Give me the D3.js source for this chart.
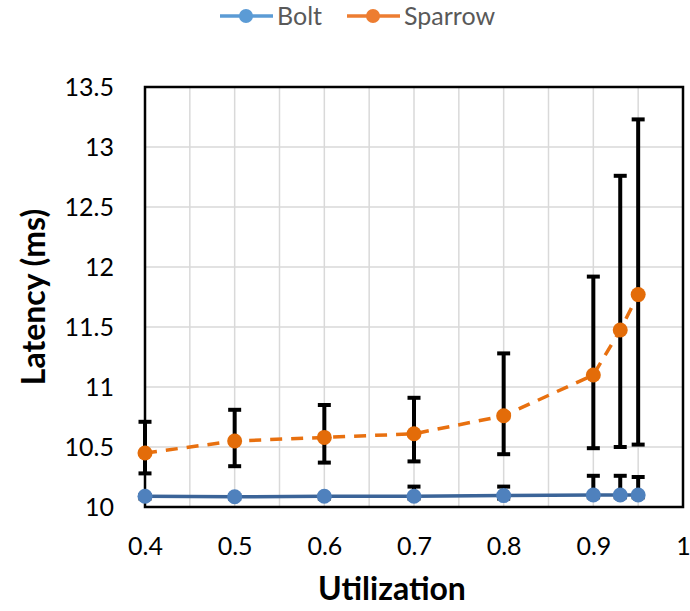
<!DOCTYPE html>
<html>
<head>
<meta charset="utf-8">
<script src="https://cdn.jsdelivr.net/npm/d3@7"></script>
<style>
  body { margin: 0; background: #fff; }
  text { font-family: Lato, "Open Sans", sans-serif; }
</style>
</head>
<body>
<div id="chart"></div>
<script>
var utilization = [0.4, 0.5, 0.6, 0.7, 0.8, 0.9, 0.93, 0.95];
var boltLatency = [10.09, 10.085, 10.09, 10.09, 10.095, 10.1, 10.1, 10.1];
var boltHigh = [10.1, 10.1, 10.1, 10.17, 10.17, 10.26, 10.26, 10.25];
var boltLow = [10.07, 10.07, 10.07, 10.07, 10.07, 10.08, 10.08, 10.08];
var sparrowLatency = [10.45, 10.55, 10.58, 10.61, 10.76, 11.1, 11.475, 11.77];
var sparrowHigh = [10.71, 10.81, 10.85, 10.91, 11.28, 11.92, 12.76, 13.23];
var sparrowLow = [10.28, 10.34, 10.37, 10.38, 10.44, 10.49, 10.5, 10.52];
var xTicks = [0.4, 0.5, 0.6, 0.7, 0.8, 0.9, 1];
var yTicks = [10, 10.5, 11, 11.5, 12, 12.5, 13, 13.5];

var width = 690, height = 611;
var margin = { top: 87, right: 7, bottom: 104, left: 145 };

var svg = d3.select('#chart').append('svg')
    .attr('width', width)
    .attr('height', height);

var x = d3.scaleLinear().domain([0.4, 1]).range([margin.left, width - margin.right]);
var y = d3.scaleLinear().domain([10, 13.5]).range([height - margin.bottom, margin.top]);

// grid
var grid = svg.append('g');
grid.selectAll('line.h').data(yTicks).enter().append('line')
    .attr('x1', x(0.4)).attr('x2', x(1))
    .attr('y1', function (d) { return y(d); }).attr('y2', function (d) { return y(d); })
    .attr('stroke', '#d9d9d9').attr('stroke-width', 1.5);
grid.selectAll('line.v').data(d3.range(0.45, 1, 0.05)).enter().append('line')
    .attr('y1', y(10)).attr('y2', y(13.5))
    .attr('x1', function (d) { return x(d); }).attr('x2', function (d) { return x(d); })
    .attr('stroke', '#d9d9d9').attr('stroke-width', 1.5);

// axes labels
var xAxis = d3.axisBottom(x).tickValues(xTicks).tickSize(0).tickPadding(30)
    .tickFormat(function (d) { return d === 1 ? '1' : d3.format('.1f')(d); });
var gx = svg.append('g').attr('transform', 'translate(0,' + y(10) + ')').call(xAxis);
gx.select('.domain').remove();
gx.selectAll('text').attr('font-size', 25).attr('fill', '#000').style('font-family', 'Lato, sans-serif');

var yAxis = d3.axisLeft(y).tickValues(yTicks).tickSize(0).tickPadding(31)
    .tickFormat(function (d) { return String(d); });
var gy = svg.append('g').attr('transform', 'translate(' + x(0.4) + ',0)').call(yAxis);
gy.select('.domain').remove();
gy.selectAll('text').attr('font-size', 25).attr('fill', '#000').style('font-family', 'Lato, sans-serif');

svg.append('text')
    .attr('x', 392).attr('y', 600)
    .attr('text-anchor', 'middle')
    .attr('font-size', 32).attr('font-weight', 'bold')
    .text('Utilization');
svg.append('text')
    .attr('transform', 'translate(45,' + (y(10) + y(13.5)) / 2 + ') rotate(-90)')
    .attr('text-anchor', 'middle')
    .attr('font-size', 32).attr('font-weight', 'bold')
    .text('Latency (ms)');

function errorBars(high, low) {
    var g = svg.append('g').attr('stroke', '#000').attr('stroke-width', 4);
    utilization.forEach(function (u, i) {
        g.append('line').attr('x1', x(u)).attr('x2', x(u)).attr('y1', y(high[i])).attr('y2', y(low[i]));
        g.append('line').attr('x1', x(u) - 6.5).attr('x2', x(u) + 6.5).attr('y1', y(high[i])).attr('y2', y(high[i]));
        g.append('line').attr('x1', x(u) - 6.5).attr('x2', x(u) + 6.5).attr('y1', y(low[i])).attr('y2', y(low[i]));
    });
}

var line = d3.line()
    .x(function (d) { return x(d[0]); })
    .y(function (d) { return y(d[1]); });

function seriesLine(values, lineColor, dash) {
    var pts = utilization.map(function (u, i) { return [u, values[i]]; });
    svg.append('path').datum(pts)
        .attr('d', line)
        .attr('fill', 'none')
        .attr('stroke', lineColor)
        .attr('stroke-width', 3.5)
        .attr('stroke-dasharray', dash);
}

function seriesMarks(values, markColor) {
    var pts = utilization.map(function (u, i) { return [u, values[i]]; });
    svg.append('g').selectAll('circle').data(pts).enter().append('circle')
        .attr('cx', function (d) { return x(d[0]); })
        .attr('cy', function (d) { return y(d[1]); })
        .attr('r', 7.5)
        .attr('fill', markColor);
}

errorBars(boltHigh, boltLow);
errorBars(sparrowHigh, sparrowLow);

// plot border on top of the error bars
svg.append('rect')
    .attr('x', x(0.4)).attr('y', y(13.5))
    .attr('width', x(1) - x(0.4)).attr('height', y(10) - y(13.5))
    .attr('fill', 'none').attr('stroke', '#000').attr('stroke-width', 2.5);

seriesLine(boltLatency, '#3b6498', null);
seriesMarks(boltLatency, '#4f81bd');
seriesLine(sparrowLatency, '#e8700f', '12,9');
seriesMarks(sparrowLatency, '#e36c09');

// legend
var legend = [
    { name: 'Bolt', color: '#5b9bd5', x: 220 },
    { name: 'Sparrow', color: '#ed7d31', x: 347 }
];
var lg = svg.append('g');
legend.forEach(function (l) {
    lg.append('line').attr('x1', l.x).attr('x2', l.x + 53).attr('y1', 16).attr('y2', 16)
        .attr('stroke', l.color).attr('stroke-width', 3.5);
    lg.append('circle').attr('cx', l.x + 26).attr('cy', 16).attr('r', 7).attr('fill', l.color);
    lg.append('text').attr('x', l.x + 57).attr('y', 25).attr('font-size', 25).attr('fill', '#595959').text(l.name);
});
</script>
</body>
</html>
